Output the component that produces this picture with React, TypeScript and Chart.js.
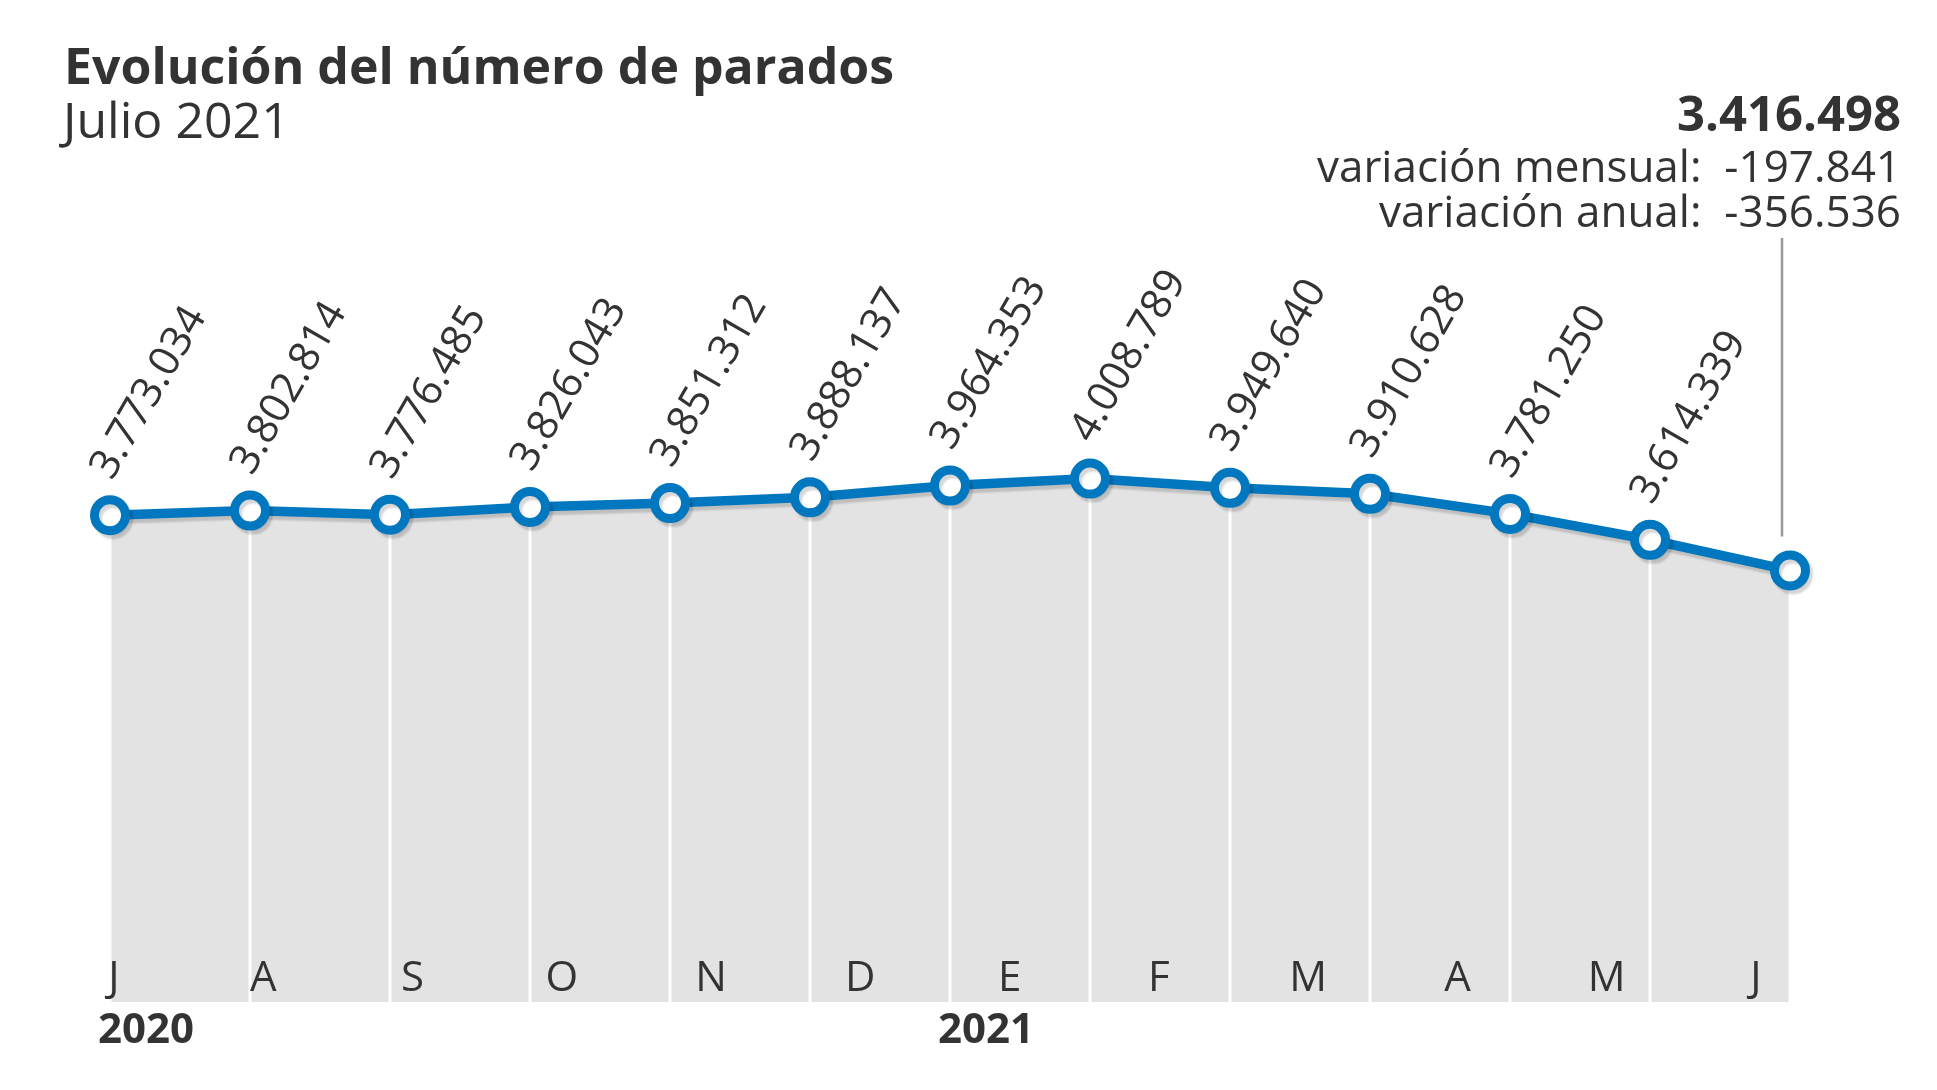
import React, { useEffect, useRef } from "react";
import { Chart, registerables } from "chart.js";

Chart.register(...registerables);

const categories = [
  "jul 2020", "ago 2020", "sep 2020", "oct 2020", "nov 2020", "dic 2020",
  "ene 2021", "feb 2021", "mar 2021", "abr 2021", "may 2021", "jun 2021", "jul 2021",
];
const parados = [
  3773034, 3802814, 3776485, 3826043, 3851312, 3888137,
  3964353, 4008789, 3949640, 3910628, 3781250, 3614339, 3416498,
];
const monthLabels = ["J", "A", "S", "O", "N", "D", "E", "F", "M", "A", "M", "J"];
const yearLabels = ["2020", "2021"];
const yearStartIndex = [0, 6];

const TITLE = "Evolución del número de parados";
const SUBTITLE = "Julio 2021";

const W = 1937;
const H = 1090;
const BLUE = "#0077be";
const TEXT = "#333333";
const FONT = "'Open Sans', 'Noto Sans', sans-serif";

function fmt(v: number): string {
  const s = Math.abs(v).toString().replace(/\B(?=(\d{3})+(?!\d))/g, ".");
  return (v < 0 ? "-" : "") + s;
}

const chartPlugin = {
  id: "paradosDecor",
  beforeDatasetDraw(chart: any, args: any) {
    if (args.index === 1) {
      const ctx = chart.ctx;
      ctx.save();
      ctx.shadowColor = "rgba(0,0,0,0.16)";
      ctx.shadowOffsetX = 3;
      ctx.shadowOffsetY = 4;
      ctx.shadowBlur = 2;
    }
  },
  afterDatasetDraw(chart: any, args: any) {
    const ctx = chart.ctx;
    if (args.index === 0) {
      const meta = chart.getDatasetMeta(0);
      const bottom = chart.chartArea.bottom;
      ctx.save();
      ctx.strokeStyle = "#ffffff";
      ctx.lineWidth = 3;
      meta.data.forEach((pt: any) => {
        ctx.beginPath();
        ctx.moveTo(pt.x, pt.y);
        ctx.lineTo(pt.x, bottom);
        ctx.stroke();
      });
      ctx.restore();
    }
    if (args.index === 1) {
      ctx.restore();
    }
  },
  afterDraw(chart: any) {
    const ctx = chart.ctx;
    const xs = chart.scales.x;
    const xm = chart.scales.xm;
    const meta = chart.getDatasetMeta(1);
    ctx.save();
    ctx.fillStyle = TEXT;

    ctx.textAlign = "left";
    ctx.textBaseline = "alphabetic";
    ctx.font = `bold 50px ${FONT}`;
    ctx.fillText(TITLE, 64, 84);
    ctx.font = `50px ${FONT}`;
    ctx.fillText(SUBTITLE, 63, 138);

    ctx.font = `42px ${FONT}`;
    meta.data.forEach((pt: any, i: number) => {
      if (i === parados.length - 1) return;
      ctx.save();
      ctx.translate(pt.x + 2, pt.y - 34);
      ctx.rotate((-60 * Math.PI) / 180);
      ctx.textAlign = "left";
      ctx.fillText(fmt(parados[i]), 0, 0);
      ctx.restore();
    });

    const n = parados.length;
    const last = meta.data[n - 1];
    const right = 1901;
    ctx.textAlign = "right";
    ctx.font = `bold 49px ${FONT}`;
    ctx.fillText(fmt(parados[n - 1]), right, 131);
    ctx.font = `44px ${FONT}`;
    ctx.fillText(`variación mensual:  ${fmt(parados[n - 1] - parados[n - 2])}`, right, 182);
    ctx.fillText(`variación anual:  ${fmt(parados[n - 1] - parados[0])}`, right, 227);
    ctx.strokeStyle = "#999999";
    ctx.lineWidth = 2.5;
    ctx.beginPath();
    ctx.moveTo(last.x - 8, 238);
    ctx.lineTo(last.x - 8, last.y - 34);
    ctx.stroke();

    ctx.textAlign = "center";
    ctx.font = `42px ${FONT}`;
    monthLabels.forEach((m, k) => {
      ctx.fillText(m, xm.getPixelForValue(k), 991);
    });

    ctx.textAlign = "left";
    ctx.font = `bold 42px ${FONT}`;
    yearLabels.forEach((y, k) => {
      ctx.fillText(y, xs.getPixelForValue(yearStartIndex[k]) - 12, 1043);
    });
    ctx.restore();
  },
};

export default function App() {
  const ref = useRef<HTMLCanvasElement | null>(null);
  useEffect(() => {
    document.body.style.margin = "0";
    const canvas = ref.current;
    if (!canvas) return;
    const chart = new Chart(canvas, {
      type: "line",
      data: {
        labels: categories,
        datasets: [
          {
            label: "area",
            data: parados,
            order: 2,
            fill: "start",
            backgroundColor: "#e3e3e3",
            borderWidth: 0,
            pointRadius: 0,
            tension: 0,
          },
          {
            label: "Parados",
            data: parados,
            order: 1,
            fill: false,
            borderColor: BLUE,
            borderWidth: 9.5,
            pointRadius: 15.5,
            pointBorderWidth: 9,
            pointBorderColor: BLUE,
            pointBackgroundColor: "#ffffff",
            tension: 0,
            clip: false,
          },
        ],
      },
      options: {
        responsive: false,
        devicePixelRatio: 1,
        animation: false,
        layout: { padding: { left: 110, right: 147, top: 170, bottom: 88 } },
        plugins: {
          legend: { display: false },
          tooltip: { enabled: false },
          title: { display: false },
        },
        scales: {
          x: { type: "category", offset: false, display: false },
          xm: {
            type: "linear",
            axis: "x",
            position: "bottom",
            display: false,
            min: -0.0268,
            max: 11.228,
          },
          y: { type: "linear", display: false, min: 632000, max: 6000000 },
        },
      },
      plugins: [chartPlugin],
    } as any);
    return () => chart.destroy();
  }, []);
  return (
    <div style={{ position: "absolute", left: 0, top: 0, width: W, height: H, background: "#fff" }}>
      <canvas ref={ref} width={W} height={H} style={{ display: "block" }} />
    </div>
  );
}
